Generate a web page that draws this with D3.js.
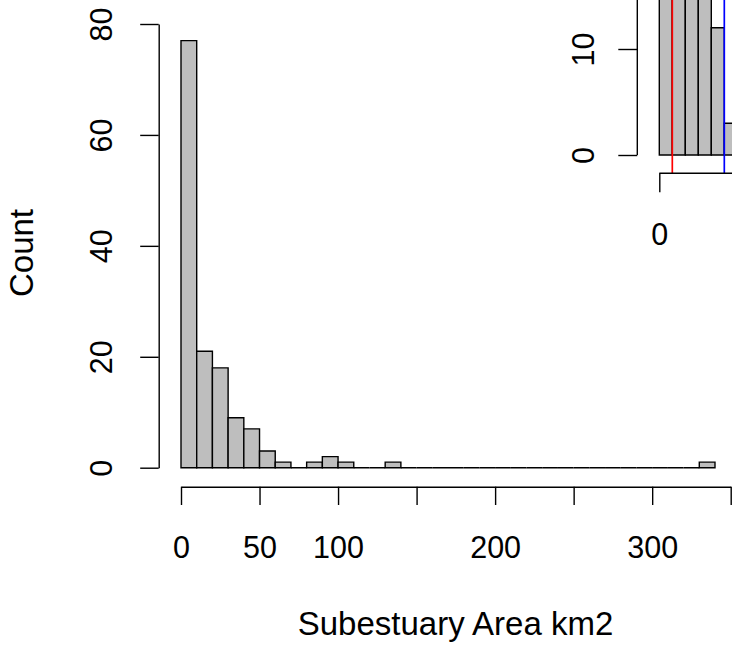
<!DOCTYPE html>
<html>
<head>
<meta charset="utf-8">
<script src="https://cdn.jsdelivr.net/npm/d3@7"></script>
<style>
  html, body { margin: 0; padding: 0; background: #ffffff; }
  svg { display: block; }
  text { font-family: "Liberation Sans", Arial, Helvetica, sans-serif; fill: #000; }
</style>
</head>
<body>
<svg id="chart" width="732" height="646"></svg>
<script>
// ---- Main histogram data (Subestuary area, km2) ----
const binEdges = [0,10,20,30,40,50,60,70,80,90,100,110,120,130,140,150,160,170,180,190,200,
                  210,220,230,240,250,260,270,280,290,300,310,320,330,340];
const binCounts = [77,21,18,9,7,3,1,0,1,2,1,0,0,1,0,0,0,0,0,0,
                   0,0,0,0,0,0,0,0,0,0,0,0,0,1];
const xTicks = [0,50,100,150,200,250,300,350];
const xTickLabels = [0,50,100,200,300];   // labels R keeps (others dropped for overlap)
const yTicks = [0,20,40,60,80];
const xTitle = "Subestuary Area km2";
const yTitle = "Count";

// ---- Inset histogram data (small subestuaries; visible part only) ----
const insetEdges = [0,1,2,3,4,5,6];
const insetCounts = [20,18,17,16,12,3];
const insetXTicks = [0];
const insetYTicks = [0,10];
const insetAxisEnd = 40;
const insetRedLine = 1;
const insetBlueLine = 5;

const svg = d3.select("#chart");
const FILL = "#bebebe";
const SW = 1.4;
const TICK_FONT = 30.5;
const TITLE_FONT = 33;
const FONT = "'Liberation Sans', Arial, sans-serif";

function barPath(xs, ys) {
  return d => {
    const a = xs(d.x0), b = xs(d.x1), y0 = ys(0), y1 = ys(d.n);
    return `M${a},${y0}V${y1}H${b}V${y0}Z`;
  };
}

// ---------- Main plot ----------
const x = d3.scaleLinear().domain([0, 350]).range([181, 730.7]);
const y = d3.scaleLinear().domain([0, 80]).range([467.7, 24]);

const bins = binCounts.map((c, i) => ({x0: binEdges[i], x1: binEdges[i + 1], n: c}));

svg.append("g").selectAll("path").data(bins).join("path")
  .attr("d", barPath(x, y))
  .attr("fill", FILL)
  .attr("stroke", "#000")
  .attr("stroke-width", SW);

// x axis
const xAxisY = 486.7;
const gx = svg.append("g").attr("transform", `translate(0,${xAxisY})`)
  .call(d3.axisBottom(x).tickValues(xTicks).tickSize(18.3).tickSizeOuter(0)
        .tickFormat(d => xTickLabels.includes(d) ? String(d) : ""));
gx.select(".domain").attr("stroke-width", SW);
gx.selectAll(".tick line").attr("stroke-width", SW);
gx.selectAll(".tick text")
  .attr("y", 71.3).attr("dy", 0)
  .attr("font-size", TICK_FONT)
  .style("font-family", FONT);

// y axis
const yAxisX = 158.7;
const gy = svg.append("g").attr("transform", `translate(${yAxisX},0)`)
  .call(d3.axisLeft(y).tickValues(yTicks).tickSize(18.5).tickSizeOuter(0).tickFormat(d3.format("d")));
gy.select(".domain").attr("stroke-width", SW);
gy.selectAll(".tick line").attr("stroke-width", SW);
gy.selectAll(".tick text")
  .attr("x", 0).attr("y", 0).attr("dy", 0)
  .attr("text-anchor", "middle")
  .attr("transform", `translate(${112 - yAxisX},0) rotate(-90)`)
  .attr("font-size", TICK_FONT)
  .style("font-family", FONT);

// axis titles
svg.append("text")
  .attr("x", 455.5).attr("y", 635)
  .attr("text-anchor", "middle")
  .attr("font-size", TITLE_FONT)
  .text(xTitle);

svg.append("text")
  .attr("transform", `translate(33,253) rotate(-90)`)
  .attr("text-anchor", "middle")
  .attr("font-size", TITLE_FONT)
  .text(yTitle);

// ---------- Inset plot ----------
const ix = d3.scaleLinear().domain([0, 1]).range([659.3, 672.3]);
const iy = d3.scaleLinear().domain([0, 10]).range([155, 49]);

const ibins = insetCounts.map((c, i) => ({x0: insetEdges[i], x1: insetEdges[i + 1], n: c}));
svg.append("g").selectAll("path").data(ibins).join("path")
  .attr("d", barPath(ix, iy))
  .attr("fill", FILL)
  .attr("stroke", "#000")
  .attr("stroke-width", SW);

const iBottom = 173.3;
// reference lines (abline)
[[insetRedLine, "#ff0000"], [insetBlueLine, "#0000ff"]].forEach(([v, c]) => {
  svg.append("line")
    .attr("x1", ix(v)).attr("x2", ix(v))
    .attr("y1", iBottom).attr("y2", iy(60))
    .attr("stroke", c).attr("stroke-width", 1.7);
});

// inset x axis
const gix = svg.append("g").attr("transform", `translate(0,${iBottom})`)
  .call(d3.axisBottom(ix).tickValues(insetXTicks).tickSize(19).tickSizeOuter(0).tickFormat(d3.format("d")));
gix.select(".domain").attr("d", `M${ix(0)},0H${ix(insetAxisEnd)}`).attr("stroke-width", SW);
gix.selectAll(".tick line").attr("stroke-width", SW);
gix.selectAll(".tick text")
  .attr("y", 71.7).attr("dy", 0)
  .attr("font-size", TICK_FONT)
  .style("font-family", FONT);

// inset y axis
const iAxisX = 637.3;
const giy = svg.append("g").attr("transform", `translate(${iAxisX},0)`)
  .call(d3.axisLeft(iy).tickValues(insetYTicks).tickSize(19).tickSizeOuter(0).tickFormat(d3.format("d")));
giy.select(".domain").attr("d", `M0,${iy(0)}V${iy(insetAxisEnd)}`).attr("stroke-width", SW);
giy.selectAll(".tick line").attr("stroke-width", SW);
giy.selectAll(".tick text")
  .attr("x", 0).attr("y", 0).attr("dy", 0)
  .attr("text-anchor", "middle")
  .attr("transform", `translate(${593.5 - iAxisX},0) rotate(-90)`)
  .attr("font-size", TICK_FONT)
  .style("font-family", FONT);
</script>
</body>
</html>
